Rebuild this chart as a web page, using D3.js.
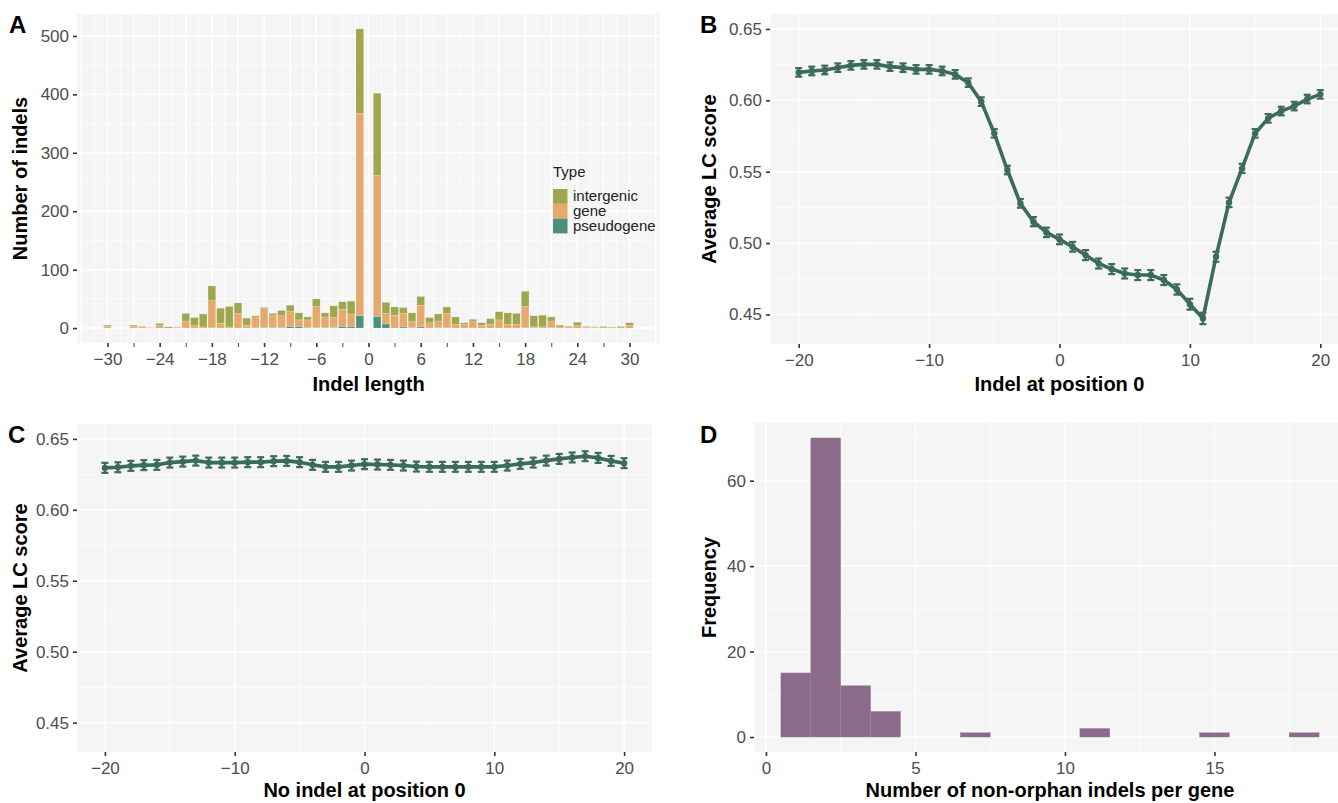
<!DOCTYPE html>
<html>
<head>
<meta charset="utf-8">
<script src="https://cdn.jsdelivr.net/npm/d3@7"></script>
<style>
  body { margin: 0; background: #fff; }
  svg text { font-family: 'Liberation Sans', Arial, Helvetica, sans-serif; }
</style>
</head>
<body>
<div id="chart"></div>
<script>
// ---- data --------------------------------------------------------------
// Panel A: indel length counts, stacked by type
var lengths    = [-30,-27,-26,-25,-24,-23,-22,-21,-20,-19,-18,-17,-16,-15,-14,-13,-12,-11,-10,-9,-8,-7,-6,-5,-4,-3,-2,-1,
                  1,2,3,4,5,6,7,8,9,10,11,12,13,14,15,16,17,18,19,20,21,22,23,24,25,26,27,28,29,30];
var pseudogene = [0,0,0,0,0,0,0,0,0,0,1,0,0,0,0,1,1,1,1,3,3,1,1,1,1,3,3,21,
                  20,7,0,2,1,2,0,1,1,0,0,0,0,0,0,0,0,1,1,0,1,0,0,0,1,0,0,0,0,0];
var gene       = [3,3,2,1,5,0,1,12,4,2,46,8,2,25,5,18,32,21,20,26,11,13,36,18,17,29,21,347,
                  241,18,22,23,10,37,9,11,24,6,6,12,5,6,14,6,6,36,1,2,11,2,2,4,1,1,2,1,2,5];
var intergenic = [2,2,1,0,3,2,1,13,14,22,25,26,35,18,12,2,2,3,9,10,12,5,13,7,20,13,22,144,
                  141,19,14,10,15,15,9,12,11,13,3,3,4,10,14,20,19,26,19,20,7,3,1,6,1,1,1,1,1,4];
var typeNames  = ["intergenic", "gene", "pseudogene"];
var typeColors = {intergenic: "#a0a64e", gene: "#e4a96b", pseudogene: "#4e8f7b"};

// Panels B and C: average LC score around position 0
var positions = d3.range(-20, 21);
var lcIndel = [0.6196,0.6206,0.6213,0.6229,0.6245,0.6252,0.6252,0.6236,0.6229,0.6217,0.6217,0.6206,0.6182,0.6124,0.5991,
               0.5769,0.5512,0.5278,0.5150,0.5075,0.5026,0.4974,0.4916,0.4857,0.4818,0.4787,0.4776,0.4776,0.4741,0.4675,
               0.4572,0.4472,0.4904,0.5285,0.5523,0.5769,0.5874,0.5925,0.5960,0.6009,0.6042];
var errIndel = [0.003,0.003,0.003,0.003,0.003,0.003,0.003,0.003,0.003,0.003,0.003,0.003,0.003,0.003,0.003,
                0.003,0.003,0.003,0.0032,0.0033,0.0034,0.0034,0.0035,0.0035,0.0035,0.0035,0.0035,0.0035,0.0035,0.0036,
                0.0038,0.004,0.0035,0.0033,0.0032,0.003,0.003,0.003,0.003,0.003,0.003];
var lcNoIndel = [0.6296,0.6300,0.6310,0.6315,0.6317,0.6333,0.6340,0.6347,0.6333,0.6333,0.6333,0.6336,0.6336,0.6343,0.6345,
                 0.6336,0.6317,0.6303,0.6303,0.6312,0.6322,0.6319,0.6317,0.6312,0.6305,0.6303,0.6303,0.6303,0.6303,0.6303,
                 0.6303,0.6312,0.6324,0.6333,0.6347,0.6359,0.6369,0.6378,0.6366,0.6345,0.6329];
var errNoIndel = 0.0035;

// Panel D: histogram of non-orphan indels per gene
var binCenters = [1, 2, 3, 4, 7, 11, 15, 18];
var binCounts  = [15, 70, 12, 6, 1, 2, 1, 1];

// ---- chart ------------------------------------------------------------------
var lineColor = "#3c6b5a";

var svg = d3.select("#chart")
  .append("svg")
  .attr("width", 1338)
  .attr("height", 803);

// draws a ggplot-like panel: grey background, white major/minor grid
function makePanel(p) {
  var x = d3.scaleLinear().domain(p.xDomain).range([p.left, p.right]);
  var y = d3.scaleLinear().domain(p.yDomain).range([p.bottom, p.top]);
  var g = svg.append("g");

  g.append("rect")
    .attr("x", p.left).attr("y", p.top)
    .attr("width", p.right - p.left).attr("height", p.bottom - p.top)
    .attr("fill", "#f5f5f5");

  // minor grid
  g.selectAll(".vminor").data(p.xMinor).enter().append("line")
    .attr("x1", d => x(d)).attr("x2", d => x(d))
    .attr("y1", p.top).attr("y2", p.bottom)
    .attr("stroke", "#fff").attr("stroke-width", 0.7);
  g.selectAll(".hminor").data(p.yMinor).enter().append("line")
    .attr("y1", d => y(d)).attr("y2", d => y(d))
    .attr("x1", p.left).attr("x2", p.right)
    .attr("stroke", "#fff").attr("stroke-width", 0.7);
  // major grid
  g.selectAll(".vmajor").data(p.xMajor).enter().append("line")
    .attr("x1", d => x(d)).attr("x2", d => x(d))
    .attr("y1", p.top).attr("y2", p.bottom)
    .attr("stroke", "#fff").attr("stroke-width", 1.4);
  g.selectAll(".hmajor").data(p.yMajor).enter().append("line")
    .attr("y1", d => y(d)).attr("y2", d => y(d))
    .attr("x1", p.left).attr("x2", p.right)
    .attr("stroke", "#fff").attr("stroke-width", 1.4);

  // axes
  var xAxis = g.append("g")
    .attr("transform", "translate(0," + p.bottom + ")")
    .call(d3.axisBottom(x).tickValues(p.xTicks).tickSize(4).tickPadding(6)
      .tickFormat(p.xFormat || d3.format("")));
  var yAxis = g.append("g")
    .attr("transform", "translate(" + p.left + ",0)")
    .call(d3.axisLeft(y).tickValues(p.yMajor).tickSize(4).tickPadding(4)
      .tickFormat(p.yFormat || d3.format("")));
  [xAxis, yAxis].forEach(function(a) {
    a.select(".domain").remove();
    a.selectAll(".tick line").attr("stroke", "#333").attr("stroke-width", 1.6);
    a.selectAll(".tick text").attr("fill", "#4d4d4d").style("font-size", "17px");
  });

  // titles
  g.append("text")
    .attr("x", (p.left + p.right) / 2).attr("y", p.xTitleY)
    .attr("text-anchor", "middle")
    .style("font-size", "20px").style("font-weight", "bold")
    .text(p.xTitle);
  g.append("text")
    .attr("transform", "translate(" + p.yTitleX + "," + (p.top + p.bottom) / 2 + ")rotate(-90)")
    .attr("text-anchor", "middle")
    .style("font-size", "20px").style("font-weight", "bold")
    .text(p.yTitle);
  svg.append("text")
    .attr("x", p.tagX).attr("y", p.tagY)
    .style("font-size", "24px").style("font-weight", "bold")
    .text(p.tag);

  return {g: g, x: x, y: y, xAxis: xAxis};
}

// Panel A -------------------------------------------------------------------
var A = makePanel({
  left: 77, right: 660, top: 14, bottom: 343,
  xDomain: [-33.5, 33.5], yDomain: [-25.6, 537.6],
  xMajor: d3.range(-33, 34, 3), xMinor: d3.range(-31.5, 33, 3),
  yMajor: [0, 100, 200, 300, 400, 500], yMinor: [50, 150, 250, 350, 450],
  xTicks: d3.range(-30, 31, 3),
  xFormat: function(d) { return d % 6 === 0 ? d3.format("")(d) : ""; },
  xTitle: "Indel length", xTitleY: 391,
  yTitle: "Number of indels", yTitleX: 27,
  tag: "A", tagX: 9, tagY: 33
});
A.xAxis.selectAll(".tick").filter(d => d % 6 !== 0).select("line")
  .attr("stroke", "#555").attr("stroke-width", 1.1);

var rows = lengths.map(function(l, i) {
  return {len: l, pseudogene: pseudogene[i], gene: gene[i], intergenic: intergenic[i]};
});
var stack = d3.stack().keys(["pseudogene", "gene", "intergenic"])(rows);
var barW = A.x(0.44) - A.x(-0.44);

A.g.selectAll(".layer").data(stack).enter().append("g")
  .attr("fill", d => typeColors[d.key])
  .selectAll("rect").data(d => d).enter().append("rect")
  .attr("x", d => A.x(d.data.len) - barW / 2)
  .attr("width", barW)
  .attr("y", d => A.y(d[1]))
  .attr("height", d => A.y(d[0]) - A.y(d[1]))
  .attr("stroke", "#ffffff").attr("stroke-opacity", 0.35).attr("stroke-width", 0.5);

// legend
var legend = A.g.append("g").attr("transform", "translate(553,0)");
legend.append("text").attr("x", 0).attr("y", 177)
  .style("font-size", "15px").attr("fill", "#222").text("Type");
legend.selectAll("rect").data(typeNames).enter().append("rect")
  .attr("x", 0).attr("y", (d, i) => 189 + i * 14.8)
  .attr("width", 14.5).attr("height", 14.8)
  .attr("fill", d => typeColors[d]);
legend.selectAll(".lab").data(typeNames).enter().append("text")
  .attr("x", 20).attr("y", (d, i) => 201 + i * 14.8)
  .style("font-size", "15px").attr("fill", "#222")
  .text(d => d);

// Panels B and C --------------------------------------------------------------
function lcPanel(opts, values, errs) {
  var P = makePanel(Object.assign({
    xDomain: [-22.2, 22.2], yDomain: [0.4293, 0.6605],
    xMajor: [-20, -10, 0, 10, 20], xMinor: [-15, -5, 5, 15],
    yMajor: [0.45, 0.50, 0.55, 0.60, 0.65], yMinor: [0.475, 0.525, 0.575, 0.625],
    xTicks: [-20, -10, 0, 10, 20],
    yFormat: d3.format(".2f"),
    yTitle: "Average LC score"
  }, opts));

  var pts = positions.map(function(p, i) {
    var e = Array.isArray(errs) ? errs[i] : errs;
    return {pos: p, v: values[i], lo: values[i] - e, hi: values[i] + e};
  });

  var eb = P.g.append("g").attr("stroke", lineColor).attr("stroke-width", 2.2);
  eb.selectAll(".ev").data(pts).enter().append("line")
    .attr("x1", d => P.x(d.pos)).attr("x2", d => P.x(d.pos))
    .attr("y1", d => P.y(d.lo)).attr("y2", d => P.y(d.hi));
  eb.selectAll(".et").data(pts).enter().append("line")
    .attr("x1", d => P.x(d.pos) - 3.5).attr("x2", d => P.x(d.pos) + 3.5)
    .attr("y1", d => P.y(d.hi)).attr("y2", d => P.y(d.hi));
  eb.selectAll(".eb").data(pts).enter().append("line")
    .attr("x1", d => P.x(d.pos) - 3.5).attr("x2", d => P.x(d.pos) + 3.5)
    .attr("y1", d => P.y(d.lo)).attr("y2", d => P.y(d.lo));

  P.g.append("path")
    .datum(pts)
    .attr("fill", "none")
    .attr("stroke", lineColor)
    .attr("stroke-width", 3.6)
    .attr("stroke-linejoin", "round")
    .attr("d", d3.line().x(d => P.x(d.pos)).y(d => P.y(d.v)));

  P.g.selectAll(".pt").data(pts).enter().append("circle")
    .attr("cx", d => P.x(d.pos)).attr("cy", d => P.y(d.v))
    .attr("r", 3.2).attr("fill", lineColor);
  return P;
}

lcPanel({
  left: 770, right: 1349, top: 14, bottom: 344,
  xTitle: "Indel at position 0", xTitleY: 391,
  yTitleX: 716,
  tag: "B", tagX: 700, tagY: 33
}, lcIndel, errIndel);

lcPanel({
  left: 77, right: 652, top: 424, bottom: 752,
  xDomain: [-22.15, 22.15],
  xTitle: "No indel at position 0", xTitleY: 797,
  yTitleX: 27,
  tag: "C", tagX: 8, tagY: 443
}, lcNoIndel, errNoIndel);

// Panel D -------------------------------------------------------------------
var D = makePanel({
  left: 754, right: 1346, top: 423, bottom: 752,
  xDomain: [-0.4, 19.4], yDomain: [-3.5, 73.5],
  xMajor: [0, 5, 10, 15], xMinor: [2.5, 7.5, 12.5, 17.5],
  yMajor: [0, 20, 40, 60], yMinor: [10, 30, 50, 70],
  xTicks: [0, 5, 10, 15],
  xTitle: "Number of non-orphan indels per gene", xTitleY: 797,
  yTitle: "Frequency", yTitleX: 716,
  tag: "D", tagX: 700, tagY: 443
});

D.g.selectAll(".bin").data(binCenters).enter().append("rect")
  .attr("x", d => D.x(d - 0.5))
  .attr("width", D.x(1) - D.x(0))
  .attr("y", (d, i) => D.y(binCounts[i]))
  .attr("height", (d, i) => D.y(0) - D.y(binCounts[i]))
  .attr("fill", "#8b6a8a")
  .attr("stroke", "#9d819c").attr("stroke-width", 0.4);
</script>
</body>
</html>
